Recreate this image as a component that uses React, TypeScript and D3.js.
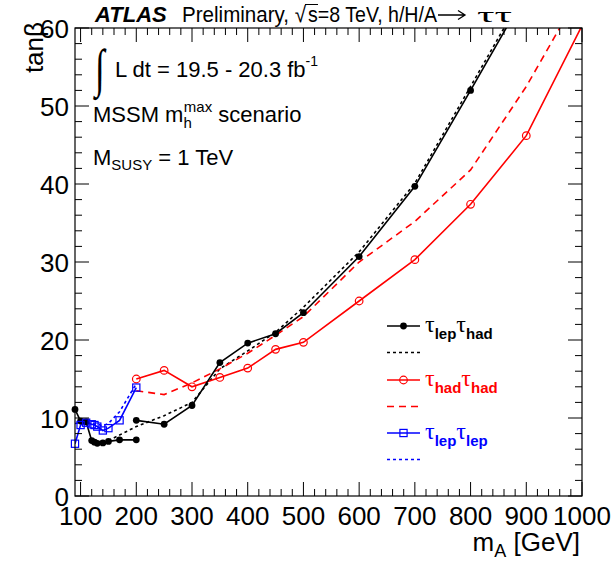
import React from 'react';
import * as d3 from 'd3';

// Low-mass analyses (GeV)
const massLow = [90, 100, 110, 120, 125, 130, 140, 150, 170, 200];
const lepHadObsLow = [11.1, 9.6, 9.5, 7.1, 6.9, 6.75, 6.8, 7.0, 7.2, 7.2];
const lepLepObs = [6.7, 9.1, 9.4, 9.2, 9.1, 8.9, 8.4, 8.7, 9.7, 13.9];
const lepLepExp = [9.3, 9.4, 9.4, 9.3, 9.2, 9.2, 9.0, 9.3, 10.8, 14.4];

// High-mass analyses (GeV)
const massHigh = [200, 250, 300, 350, 400, 450, 500, 600, 700, 800, 900, 1000];
const lepHadObsHigh = [9.7, 9.2, 11.6, 17.1, 19.6, 20.8, 23.5, 30.7, 39.7, 52.0, 64.5];
const lepHadExpMass = [150, 200, 250, 300, 350, 400, 450, 500, 600, 700, 800, 900];
const lepHadExp = [7.1, 8.9, 10.3, 12.0, 16.3, 18.6, 21.0, 24.2, 31.3, 40.1, 52.5, 65.0];
const hadHadObs = [15.0, 16.1, 14.0, 15.2, 16.4, 18.8, 19.7, 25.0, 30.3, 37.4, 46.2, 60.3];
const hadHadExp = [13.5, 13.0, 14.5, 16.3, 18.3, 20.6, 23.0, 30.0, 35.2, 41.8, 52.5, 65.0];

const xTicks = [100, 200, 300, 400, 500, 600, 700, 800, 900, 1000];
const yTicks = [0, 10, 20, 30, 40, 50, 60];

const SANS = '"Liberation Sans", Arial, Helvetica, sans-serif';
const SERIF = '"Liberation Serif", "DejaVu Serif", serif';

type Pt = [number, number];
const zip = (m: number[], v: number[]): Pt[] => v.map((val, i) => [m[i], val]);

export default function App() {
  const W = 614, H = 563;
  const x0 = 75, x1 = 582, y0 = 28, y1 = 496;
  const x = d3.scaleLinear().domain([90, 1000]).range([x0, x1]);
  const y = d3.scaleLinear().domain([0, 60]).range([y1, y0]);
  const line = d3.line<Pt>().x(d => x(d[0])).y(d => y(d[1]));

  const inFrame = (p: Pt) => p[1] <= 60 && p[1] >= 0;

  const series = [
    { pts: zip(lepHadExpMass, lepHadExp), color: '#000', dash: '3,3', marker: 'none' },
    { pts: zip(massHigh, hadHadExp), color: '#ff0000', dash: '7,5', marker: 'none' },
    { pts: zip(massLow, lepLepExp), color: '#0000ff', dash: '3,3', marker: 'none' },
    { pts: zip(massHigh, hadHadObs), color: '#ff0000', dash: undefined, marker: 'circle' },
    { pts: zip(massLow, lepHadObsLow), color: '#000', dash: undefined, marker: 'dot' },
    { pts: zip(massHigh, lepHadObsHigh), color: '#000', dash: undefined, marker: 'dot' },
    { pts: zip(massLow, lepLepObs), color: '#0000ff', dash: undefined, marker: 'square' },
  ];

  const marker = (kind: string, cx: number, cy: number, color: string, key: string) => {
    if (kind === 'dot') return <circle key={key} cx={cx} cy={cy} r={3.4} fill={color} />;
    if (kind === 'circle') return <circle key={key} cx={cx} cy={cy} r={3.8} fill="none" stroke={color} strokeWidth={1.2} />;
    if (kind === 'square') return <rect key={key} x={cx - 3.6} y={cy - 3.6} width={7.2} height={7.2} fill="none" stroke={color} strokeWidth={1.2} />;
    return null;
  };

  const xMinor = d3.range(100, 1000, 20).filter(v => v % 100 !== 0);
  const yMinor = d3.range(0, 60, 2).filter(v => v % 10 !== 0);

  const legendX0 = 387, legendX1 = 420, legendTx = 425;
  const legend = [
    { yy: 326, color: '#000', dash: undefined, marker: 'dot', a: 'lep', b: 'had' },
    { yy: 352.5, color: '#000', dash: '3,3', marker: 'none' },
    { yy: 380, color: '#ff0000', dash: undefined, marker: 'circle', a: 'had', b: 'had' },
    { yy: 406.5, color: '#ff0000', dash: '7,5', marker: 'none' },
    { yy: 433, color: '#0000ff', dash: undefined, marker: 'square', a: 'lep', b: 'lep' },
    { yy: 459.5, color: '#0000ff', dash: '3,3', marker: 'none' },
  ];

  return (
    <svg width={W} height={H} style={{ position: 'absolute', left: 0, top: 0, background: '#fff' }} fontFamily={SANS}>
      <defs>
        <clipPath id="frame">
          <rect x={x0} y={y0} width={x1 - x0} height={y1 - y0} />
        </clipPath>
      </defs>
      <rect x={0} y={0} width={W} height={H} fill="#fff" />

      {/* data */}
      <g clipPath="url(#frame)">
        {series.map((s, i) => (
          <path key={'l' + i} d={line(s.pts) || ''} fill="none" stroke={s.color} strokeWidth={1.6} strokeDasharray={s.dash} />
        ))}
      </g>
      <g>
        {series.map((s, i) => s.pts.filter(inFrame).map((p, j) => marker(s.marker, x(p[0]), y(p[1]), s.color, `m${i}-${j}`)))}
      </g>

      {/* frame */}
      <rect x={x0} y={y0} width={x1 - x0} height={y1 - y0} fill="none" stroke="#000" strokeWidth={1.2} />
      {xTicks.map(t => (
        <g key={'xt' + t}>
          <line x1={x(t)} x2={x(t)} y1={y1} y2={y1 - 14} stroke="#000" strokeWidth={1} />
          <line x1={x(t)} x2={x(t)} y1={y0} y2={y0 + 14} stroke="#000" strokeWidth={1} />
          <text x={x(t)} y={525} fontSize={26} textAnchor="middle">{t}</text>
        </g>
      ))}
      {xMinor.map(t => (
        <g key={'xm' + t}>
          <line x1={x(t)} x2={x(t)} y1={y1} y2={y1 - 7} stroke="#000" strokeWidth={1} />
          <line x1={x(t)} x2={x(t)} y1={y0} y2={y0 + 7} stroke="#000" strokeWidth={1} />
        </g>
      ))}
      {yTicks.map(t => (
        <g key={'yt' + t}>
          <line x1={x0} x2={x0 + 14} y1={y(t)} y2={y(t)} stroke="#000" strokeWidth={1} />
          <line x1={x1} x2={x1 - 14} y1={y(t)} y2={y(t)} stroke="#000" strokeWidth={1} />
          <text x={69} y={y(t) + 9.5} fontSize={26} textAnchor="end">{t}</text>
        </g>
      ))}
      {yMinor.map(t => (
        <g key={'ym' + t}>
          <line x1={x0} x2={x0 + 7} y1={y(t)} y2={y(t)} stroke="#000" strokeWidth={1} />
          <line x1={x1} x2={x1 - 7} y1={y(t)} y2={y(t)} stroke="#000" strokeWidth={1} />
        </g>
      ))}

      {/* axis titles */}
      <text x={580} y={551} fontSize={26} textAnchor="end">
        m<tspan fontSize={18} dy={6}>A</tspan><tspan dy={-6}> [GeV]</tspan>
      </text>
      <text transform="translate(43,22) rotate(-90)" fontSize={26} textAnchor="end">tanβ</text>

      {/* header */}
      <text x={95} y={22} fontSize={22} fontWeight="bold" fontStyle="italic">ATLAS</text>
      <text x={182} y={22} fontSize={22} textLength={124} lengthAdjust="spacingAndGlyphs">Preliminary, √</text>
      <line x1={305} x2={318} y1={4.5} y2={4.5} stroke="#000" strokeWidth={1} />
      <text x={308} y={22} fontSize={22} textLength={129} lengthAdjust="spacingAndGlyphs">s=8 TeV, h/H/A</text>
      <path d="M438,15 H464 M458,10.5 L465,15 L458,19.5" fill="none" stroke="#000" strokeWidth={1.3} />
      <text x={477} y={22} fontSize={22} fontFamily={SERIF} textLength={35} lengthAdjust="spacingAndGlyphs">ττ</text>

      {/* annotations */}
      <text x={95} y={86} fontSize={44} fontFamily={SERIF} transform="translate(95,86) scale(0.8,1.2) translate(-95,-86)">∫</text>
      <text x={115} y={77} fontSize={22}>
        L dt = 19.5 - 20.3 fb<tspan fontSize={14} dy={-11}>-1</tspan>
      </text>
      <text x={93} y={122} fontSize={22}>
        MSSM m<tspan fontSize={15} dy={6}>h</tspan><tspan fontSize={15} dx={-8} dy={-16}>max</tspan><tspan dy={10}> scenario</tspan>
      </text>
      <text x={93} y={165} fontSize={22}>
        M<tspan fontSize={15} dy={5}>SUSY</tspan><tspan dy={-5}> = 1 TeV</tspan>
      </text>

      {/* legend */}
      {legend.map((l, i) => (
        <g key={'lg' + i}>
          <line x1={legendX0} x2={legendX1} y1={l.yy} y2={l.yy} stroke={l.color} strokeWidth={1.6} strokeDasharray={l.dash} />
          {marker(l.marker, (legendX0 + legendX1) / 2, l.yy, l.color, 'lm' + i)}
          {l.a && (
            <text x={legendTx} y={l.yy + 6} fontSize={24} fill={l.color}>
              <tspan fontFamily={SERIF}>τ</tspan>
              <tspan fontSize={15} fontWeight="bold" dy={7}>{l.a}</tspan>
              <tspan fontFamily={SERIF} dy={-7}>τ</tspan>
              <tspan fontSize={15} fontWeight="bold" dy={7}>{l.b}</tspan>
            </text>
          )}
        </g>
      ))}
    </svg>
  );
}
